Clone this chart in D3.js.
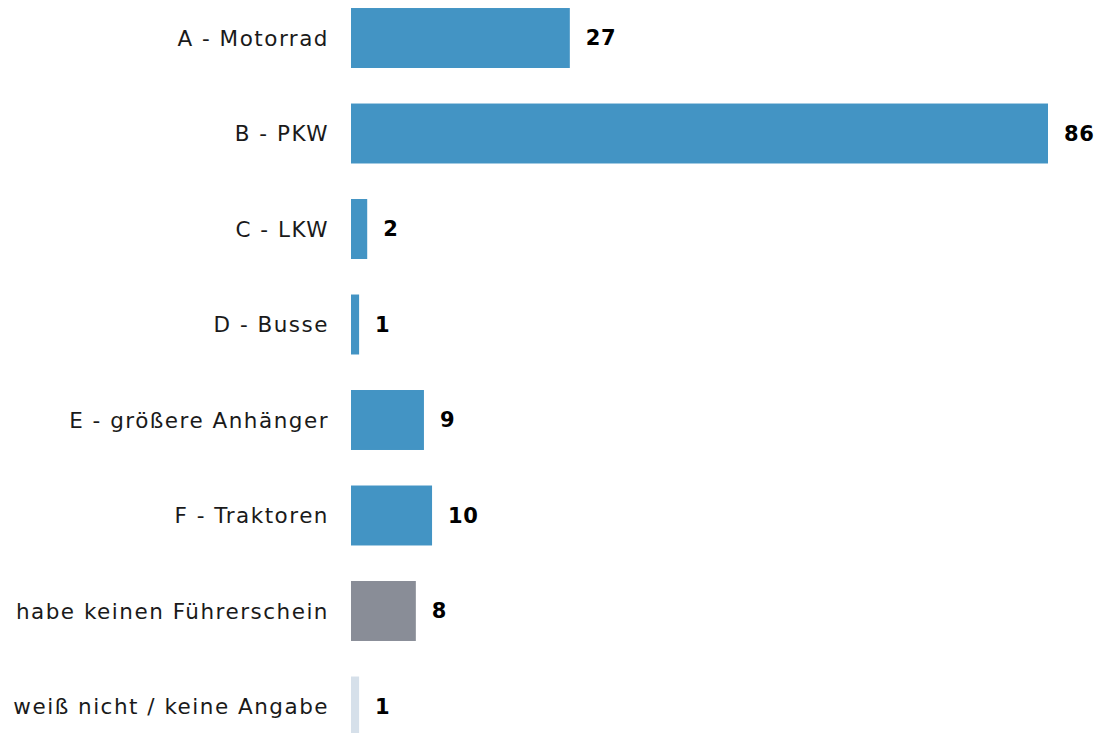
<!DOCTYPE html>
<html>
<head>
<meta charset="utf-8">
<script src="https://cdn.jsdelivr.net/npm/d3@7"></script>
<style>
  html, body { margin: 0; padding: 0; background: #fff; overflow: hidden; }
  svg { display: block; }
  .cat { font-family: "DejaVu Sans", sans-serif; font-size: 21.5px; letter-spacing: 1.5px; fill: #1a1a1a; }
  .val { font-family: "DejaVu Sans", sans-serif; font-size: 21px; letter-spacing: 0.6px; font-weight: bold; fill: #000; }
</style>
</head>
<body>
<svg id="chart" width="1099" height="733"></svg>
<script>
// Driving licence classes held (counts)
const categories = [
  "A - Motorrad",
  "B - PKW",
  "C - LKW",
  "D - Busse",
  "E - größere Anhänger",
  "F - Traktoren",
  "habe keinen Führerschein",
  "weiß nicht / keine Angabe"
];
const values = [27, 86, 2, 1, 9, 10, 8, 1];
const barColors = ["#4394c4", "#4394c4", "#4394c4", "#4394c4", "#4394c4", "#4394c4", "#898d97", "#d6e0ea"];

const data = categories.map((c, i) => ({ cat: c, value: values[i], color: barColors[i] }));

const svg = d3.select("#chart");

const x = d3.scaleLinear().domain([0, 86]).range([351, 1048]);
const y = d3.scaleBand().domain(categories).range([-27.5, 772]).padding(0.372);

const rows = svg.selectAll("g.row").data(data).join("g").attr("class", "row");

rows.append("rect")
  .attr("x", x(0))
  .attr("y", d => y(d.cat))
  .attr("width", d => x(d.value) - x(0))
  .attr("height", y.bandwidth())
  .attr("fill", d => d.color);

rows.append("text")
  .attr("class", "cat")
  .attr("x", 329)
  .attr("y", d => y(d.cat) + y.bandwidth() / 2)
  .attr("dy", "0.35em")
  .attr("text-anchor", "end")
  .text(d => d.cat);

rows.append("text")
  .attr("class", "val")
  .attr("x", d => x(d.value) + 16)
  .attr("y", d => y(d.cat) + y.bandwidth() / 2)
  .attr("dy", "0.35em")
  .text(d => d.value);
</script>
</body>
</html>
